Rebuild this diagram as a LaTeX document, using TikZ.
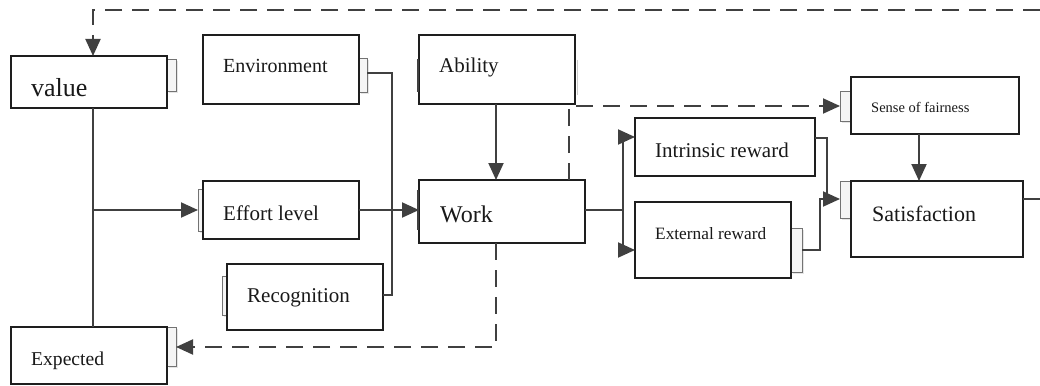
\documentclass[tikz,border=0pt]{standalone}
\usepackage{fontspec}
\setmainfont{Liberation Serif}
\usetikzlibrary{arrows.meta,shadows}
\definecolor{lnc}{HTML}{404040}
\definecolor{bxc}{HTML}{1E1E1E}
\tikzset{
  box/.style={draw=bxc, line width=1.4pt, fill=white, inner sep=0pt, outer sep=0pt, anchor=north west},
  tab/.style={draw=black!55, fill=black!4, line width=0.7pt, inner sep=0pt, outer sep=0pt, anchor=north west,
              drop shadow={shadow xshift=1.6pt, shadow yshift=-1.6pt, opacity=0.25, fill=black!40}},
  bar/.style={draw=lnc, line width=1.8pt},
  txt/.style={anchor=base west, inner sep=0pt, text=black!90},
  conn/.style={draw=lnc, line width=2pt},
  arr/.style={conn, -{Triangle[length=17pt,width=15pt]}},
  dsh/.style={conn, dash pattern=on 17pt off 10pt},
  darr/.style={dsh, -{Triangle[length=17pt,width=15pt]}}
}
\newcommand{\fs}[1]{\fontsize{#1}{#1}\selectfont}
\begin{document}
\begin{tikzpicture}[x=1pt,y=-1pt]
\useasboundingbox (0,0) rectangle (1040,385);
% tabs (behind boxes)
\node[tab, minimum width=9pt, minimum height=32pt] (tvalR) at (167,59) {};
\node[tab, minimum width=8pt, minimum height=34pt] (tenvR) at (359,58) {};
\node[tab, minimum width=5pt, minimum height=42pt] (teffL) at (198,189) {};
\node[tab, minimum width=5pt, minimum height=39pt] (trecL) at (222,276) {};
\node[tab, minimum width=9pt, minimum height=39pt] (texpR) at (167,327) {};
\node[tab, minimum width=11pt, minimum height=30pt] (tsenL) at (840,91) {};
\node[tab, minimum width=11pt, minimum height=37pt] (tsatL) at (840,181) {};
\node[tab, minimum width=11pt, minimum height=44pt] (textR) at (791,228) {};
% boxes
\node[box, minimum width=156pt, minimum height=52pt] (value) at (11,56) {};
\node[box, minimum width=156pt, minimum height=69pt] (env) at (203,35) {};
\node[box, minimum width=156pt, minimum height=58pt] (effort) at (203,181) {};
\node[box, minimum width=156pt, minimum height=66pt] (recog) at (227,264) {};
\node[box, minimum width=156pt, minimum height=57pt] (expected) at (11,327) {};
\node[box, minimum width=156pt, minimum height=69pt] (ability) at (419,35) {};
\node[box, minimum width=166pt, minimum height=63pt] (work) at (419,180) {};
\node[box, minimum width=180pt, minimum height=58pt] (intr) at (635,118) {};
\node[box, minimum width=156pt, minimum height=76pt] (ext) at (635,202) {};
\node[box, minimum width=168pt, minimum height=57pt] (sense) at (851,77) {};
\node[box, minimum width=172pt, minimum height=76pt] (satis) at (851,181) {};
% thin side bars
\draw[bar] (418,59) -- (418,92);
\draw[draw=black!20, line width=0.8pt] (577,60) -- (577,95);
\draw[bar] (418,190) -- (418,230);
% labels
\node[txt, font=\fs{26}] (lvalue) at (31,97) {value};
\node[txt, font=\fs{20}] (lenv) at (223,73) {Environment};
\node[txt, font=\fs{21}] (leff) at (223,220) {Effort level};
\node[txt, font=\fs{21}] (lrec) at (247,302) {Recognition};
\node[txt, font=\fs{19.6}] (lexp) at (31,365) {Expected};
\node[txt, font=\fs{21}] (labil) at (439,73) {Ability};
\node[txt, font=\fs{24}] (lwork) at (440,222) {Work};
\node[txt, font=\fs{21}] (lintr) at (655,157) {Intrinsic reward};
\node[txt, font=\fs{17.3}] (lext) at (655,239) {External reward};
\node[txt, font=\fs{14.5}] (lsen) at (871,113) {Sense of fairness};
\node[txt, font=\fs{22}] (lsat) at (872,221) {Satisfaction};
% coordinates
\coordinate (vb) at (93,210);
\coordinate (jx) at (392,210);
\coordinate (wr) at (623,210);
\coordinate (rightedge) at (1040,199);
\coordinate (topright) at (1040,10);
% solid connectors
\draw[conn] (value.south -| vb) -- (expected.north -| vb);
\draw[arr] (vb) -- (teffL.west |- vb);
\draw[conn] (tenvR.east |- 0,73) -| (jx) |- (recog.east |- 0,295);
\draw[arr] (effort.east |- vb) -- (work.west |- vb);
\draw[arr] (ability.south -| 496,0) -- (work.north -| 496,0);
\draw[conn] (work.east |- vb) -- (wr);
\draw[conn] (623,137) -- (623,250);
\draw[arr] (623,137) -- (intr.west |- 0,137);
\draw[arr] (623,250) -- (ext.west |- 0,250);
\draw[conn] (intr.east |- 0,138) -| (827,199);
\draw[arr] (827,199) -- (tsatL.west |- 0,199);
\draw[conn] (textR.east |- 0,250) -| (820,199) -- (827,199);
\draw[arr] (sense.south -| 919,0) -- (satis.north -| 919,0);
\draw[conn] (satis.east |- rightedge) -- (rightedge);
% dashed connectors
\draw[darr] (topright) -| (value.north -| 93,0);
\draw[darr] (work.north -| 569,0) |- (tsenL.west |- 0,106);
\draw[darr] (work.south -| 496,0) |- (texpR.east |- 0,347);
\end{tikzpicture}
\end{document}
